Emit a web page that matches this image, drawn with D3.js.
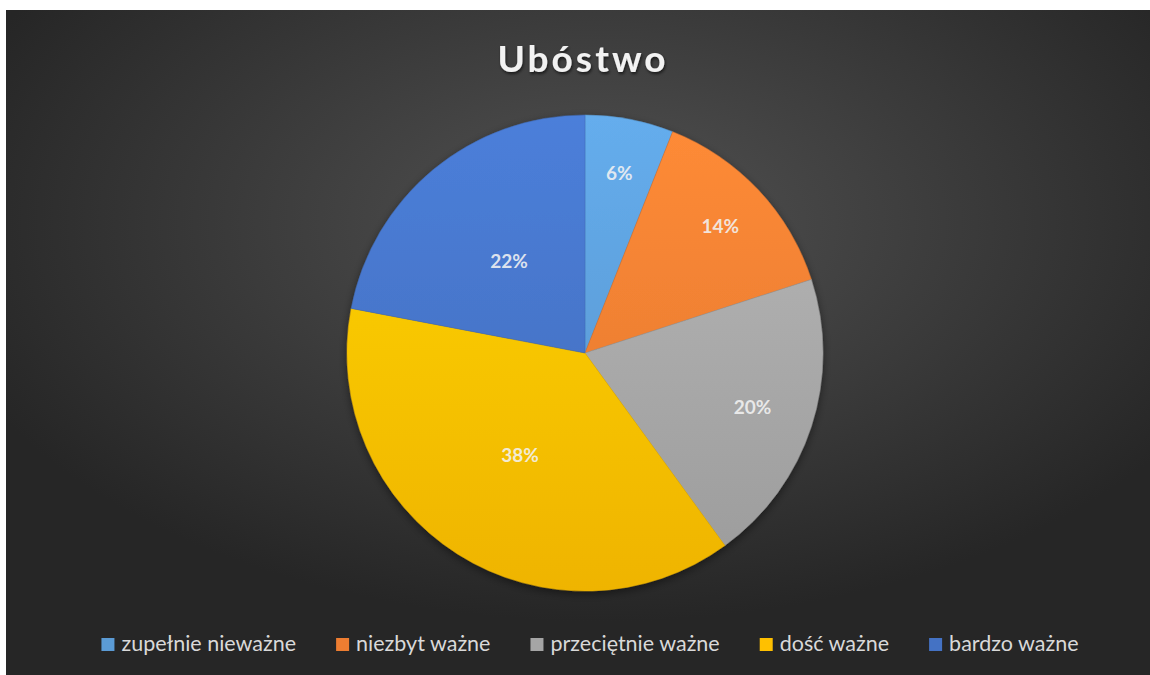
<!DOCTYPE html>
<html>
<head>
<meta charset="utf-8">
<script src="https://cdn.jsdelivr.net/npm/d3@7"></script>
<style>
    body { margin: 0; background: #fff; }
    svg { display: block; }
</style>
</head>
<body>
<div id="main"></div>
<script>
// chart data
const CATEGORIES = ["zupełnie nieważne", "niezbyt ważne", "przeciętnie ważne", "dość ważne", "bardzo ważne"];
const VALUES = [6, 14, 20, 38, 22];
const TITLE = "Ubóstwo";

const COLORS = ["#5b9bd5", "#ed7d31", "#a5a5a5", "#ffc000", "#4472c4"];
// Excel "best fit" puts labels of the big slices nearer the centre
const LABEL_R = [0.77, 0.78, 0.74, 0.51, 0.5];

const ctx = {
    w: 1150,
    h: 675,
    frame: { x: 6, y: 10 },
    cx: 585,
    cy: 353,
    r: 238,
    legendY: 645,
    legendGap: 40,
    font: "Lato, 'Open Sans', sans-serif",
};

function createViz() {
    let svgEl = d3.select("#main").append("svg")
        .attr("width", ctx.w)
        .attr("height", ctx.h);
    let defs = svgEl.append("defs");

    let bg = defs.append("radialGradient")
        .attr("id", "bg")
        .attr("cx", "52%").attr("cy", "32%").attr("r", "60%");
    bg.append("stop").attr("offset", "0%").attr("stop-color", "#525252");
    bg.append("stop").attr("offset", "100%").attr("stop-color", "#262626");

    COLORS.forEach((c, i) => {
        let g = defs.append("linearGradient")
            .attr("id", "slice" + i)
            .attr("gradientUnits", "userSpaceOnUse")
            .attr("x1", 0).attr("y1", -ctx.r)
            .attr("x2", 0).attr("y2", ctx.r);
        g.append("stop").attr("offset", "0%").attr("stop-color", d3.color(c).brighter(0.3));
        g.append("stop").attr("offset", "100%").attr("stop-color", d3.color(c).darker(0.18));
    });

    let shadow = defs.append("filter").attr("id", "shadow")
        .attr("x", "-10%").attr("y", "-10%").attr("width", "120%").attr("height", "120%");
    shadow.append("feDropShadow")
        .attr("dx", 0).attr("dy", 3).attr("stdDeviation", 4)
        .attr("flood-color", "#000").attr("flood-opacity", 0.45);

    let tshadow = defs.append("filter").attr("id", "tshadow");
    tshadow.append("feDropShadow")
        .attr("dx", 1).attr("dy", 2).attr("stdDeviation", 1.5)
        .attr("flood-color", "#000").attr("flood-opacity", 0.6);

    svgEl.append("rect")
        .attr("x", ctx.frame.x).attr("y", ctx.frame.y)
        .attr("width", ctx.w - ctx.frame.x).attr("height", ctx.h - ctx.frame.y)
        .attr("fill", "url(#bg)");

    svgEl.append("text")
        .attr("x", 583).attr("y", 72)
        .attr("text-anchor", "middle")
        .attr("font-family", ctx.font)
        .attr("font-weight", "bold")
        .attr("font-size", 37)
        .attr("letter-spacing", 3)
        .attr("fill", "#f2f2f2")
        .attr("filter", "url(#tshadow)")
        .text(TITLE);

    let pie = d3.pie().sort(null).value((d) => d);
    let arcs = pie(VALUES);
    let arc = d3.arc().innerRadius(0).outerRadius(ctx.r);

    let pieG = svgEl.append("g")
        .attr("transform", `translate(${ctx.cx},${ctx.cy})`);

    pieG.append("g")
        .attr("filter", "url(#shadow)")
        .selectAll("path")
        .data(arcs)
        .enter()
        .append("path")
        .attr("d", arc)
        .attr("fill", (d, i) => `url(#slice${i})`)
        .attr("stroke", (d, i) => d3.color(COLORS[i]).darker(0.2))
        .attr("stroke-width", 0.5);

    pieG.selectAll("text.lbl")
        .data(arcs)
        .enter()
        .append("text")
        .classed("lbl", true)
        .attr("transform", (d, i) => {
            let lr = ctx.r * LABEL_R[i];
            let c = d3.arc().innerRadius(lr).outerRadius(lr).centroid(d);
            return `translate(${c[0]},${c[1]})`;
        })
        .attr("dy", "0.36em")
        .attr("text-anchor", "middle")
        .attr("font-family", ctx.font)
        .attr("font-weight", "bold")
        .attr("font-size", 19)
        .attr("fill", "#f2f2f2")
        .attr("fill-opacity", 0.88)
        .text((d) => d.data + "%");

    // legend, laid out from measured text widths and centred
    let legendG = svgEl.append("g");
    let items = legendG.selectAll("g")
        .data(CATEGORIES)
        .enter()
        .append("g");
    items.append("rect")
        .attr("y", ctx.legendY - 7)
        .attr("width", 13).attr("height", 13)
        .attr("fill", (d, i) => COLORS[i]);
    items.append("text")
        .attr("x", 20)
        .attr("y", ctx.legendY + 6)
        .attr("font-family", ctx.font)
        .attr("font-size", 21.5)
        .attr("fill", "#d9d9d9")
        .text((d) => d);

    let x = 0;
    let offsets = [];
    items.each(function () {
        offsets.push(x);
        x += this.getBBox().width + ctx.legendGap;
    });
    let total = x - ctx.legendGap;
    let start = 590 - total / 2;
    items.attr("transform", (d, i) => `translate(${start + offsets[i]},0)`);
}

createViz();
</script>
</body>
</html>
